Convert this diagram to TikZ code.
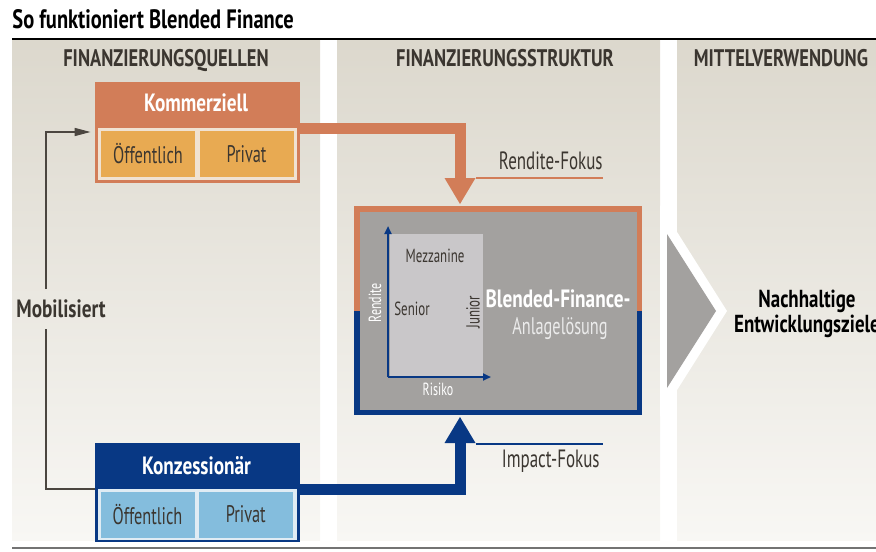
\documentclass[tikz,border=0pt]{standalone}
\usepackage{fontspec}
\setmainfont{PT Sans}
\newfontfamily\condbold[FakeStretch=0.77]{PT Sans}
\newfontfamily\condlight[FakeStretch=0.68]{PT Sans}
\usetikzlibrary{arrows.meta}

\definecolor{textdark}{RGB}{59,54,48}
\definecolor{komorange}{RGB}{210,125,88}
\definecolor{komyellow}{RGB}{232,170,82}
\definecolor{kompale}{RGB}{240,226,210}
\definecolor{konznavy}{RGB}{8,56,132}
\definecolor{konzlight}{RGB}{132,189,221}
\definecolor{konzpale}{RGB}{224,236,244}
\definecolor{blendgray}{RGB}{163,161,159}
\definecolor{tranchegray}{RGB}{201,199,201}
\definecolor{coltop}{RGB}{220,216,205}
\definecolor{colbottom}{RGB}{248,247,244}
\definecolor{mobgray}{RGB}{75,70,64}

\tikzset{
	colbg/.style={top color=coltop,bottom color=colbottom},
	headtext/.style={anchor=base,text=textdark,font=\condbold\bfseries\fontsize{12}{14}\selectfont},
	boxtitle/.style={anchor=base,text=white,font=\condbold\bfseries\fontsize{12.5}{14}\selectfont},
	subbox/.style={minimum width=47pt,minimum height=23pt,inner sep=0pt,text=textdark,font=\condlight\fontsize{12}{14}\selectfont},
	fokustext/.style={anchor=base east,inner sep=0pt,text=textdark,font=\condlight\fontsize{12.5}{14}\selectfont},
	fokusline/.style={draw=#1,line width=1pt},
	flowarrow/.style={draw=#1,line width=5.5pt,-{Triangle[width=15.5pt,length=13pt,line width=0pt]}},
	mobline/.style={draw=mobgray,line width=0.75pt},
	axisline/.style={draw=konznavy,line width=1pt,-{Triangle[width=3.5pt,length=4pt]}},
	tranchetext/.style={text=textdark,inner sep=0pt,font=\condlight\fontsize{9.5}{11}\selectfont},
	axistext/.style={text=white,inner sep=0pt,font=\condlight\fontsize{8.8}{10}\selectfont}
}

\begin{document}
\begin{tikzpicture}[x=0.5pt,y=-0.5pt]%[show background grid]

	\useasboundingbox (0,0) rectangle (876,551);
	\clip (0,0) rectangle (876,551);

	% columns and rules
	\shade[colbg] (12,41) rectangle (320,540);
	\shade[colbg] (337,41) rectangle (660,540);
	\shade[colbg] (677,41) rectangle (876,540);
	\draw[line width=1pt] (12,39) -- (876,39);
	\draw[line width=1pt,black!55] (12,548) -- (876,548);

	\node[anchor=base west,inner sep=0pt,font=\condbold\bfseries\fontsize{13.3}{15}\selectfont] (title) at (12,29) {So funktioniert Blended Finance};

	\node[headtext] (quellen) at (166,67) {FINANZIERUNGSQUELLEN};
	\node[headtext] (struktur) at (505,67) {FINANZIERUNGSSTRUKTUR};
	\node[headtext] (verwendung) at (781,67) {MITTELVERWENDUNG};

	% sources
	\node[fill=komorange,minimum width=102.5pt,minimum height=50.5pt,inner sep=0pt] (kom) at (197.5,132.5) {};
	\fill[kompale] (98,128) rectangle (297,180);
	\node[boxtitle] (komtitle) at (196,112) {Kommerziell};
	\node[subbox,fill=komyellow] (komoeff) at (148,154) {Öffentlich};
	\node[subbox,fill=komyellow] (komprivat) at (246.5,154) {Privat};

	\node[fill=konznavy,minimum width=102.5pt,minimum height=49.5pt,inner sep=0pt] (konz) at (197.5,492.5) {};
	\fill[konzpale] (98,489) rectangle (297,540);
	\node[boxtitle] (konztitle) at (196.5,474) {Konzessionär};
	\node[subbox,fill=konzlight] (konzoeff) at (147.5,514.5) {Öffentlich};
	\node[subbox,fill=konzlight] (konzprivat) at (245.75,514.5) {Privat};

	\node[inner sep=0pt,minimum height=19.5pt,text=textdark,font=\condbold\bfseries\fontsize{12.5}{14}\selectfont] (mobil) at (61,309) {Mobilisiert};
	\draw[mobline] (konz.west |- 0,489) -| (46,0 |- mobil.south);
	\draw[mobline,-{Triangle[width=4pt,length=8pt]}] (46,0 |- mobil.north) |- ([xshift=-2pt]kom.west |- 0,132);

	% structure
	\node[minimum width=144pt,minimum height=104.5pt,inner sep=0pt] (blend) at (498,310.5) {};
	\fill[komorange] (blend.north west) rectangle (blend.east);
	\fill[konznavy] (blend.west) rectangle (blend.south east);
	\fill[blendgray] ([shift={(3pt,-3pt)}]blend.north west) rectangle ([shift={(-2.5pt,2.5pt)}]blend.south east);

	\node[fill=tranchegray,minimum width=46.5pt,minimum height=71.5pt,inner sep=0pt] (tranche) at (436.5,305.5) {};
	\coordinate (origin) at (388,377);
	\draw[axisline] (origin) -- (388,226);
	\draw[axisline] (origin) -- (491,377);

	\node[tranchetext] (mezz) at (435,256) {Mezzanine};
	\node[tranchetext] (senior) at (412,309) {Senior};
	\node[tranchetext,rotate=90] (junior) at (473,312) {Junior};
	\node[axistext,rotate=90] (rendite) at (375,303) {Rendite};
	\node[axistext] (risiko) at (438,389) {Risiko};

	\node[anchor=base,inner sep=0pt,text=white,font=\condbold\bfseries\fontsize{12.5}{14}\selectfont] (blendtitle) at (558,307) {Blended-Finance-};
	\node[anchor=base,inner sep=0pt,text=black!8,font=\condlight\fontsize{12}{14}\selectfont] (blendsub) at (560,334) {Anlagelösung};

	\coordinate (rendin) at (460,204);
	\coordinate (impin) at (460,417);
	\draw[flowarrow=komorange] (kom.east |- 0,128) -| (rendin);
	\draw[flowarrow=konznavy] (konz.east |- 0,489) -| (impin);

	\node[fokustext] (rendfokus) at (603,169) {Rendite-Fokus};
	\draw[fokusline=komorange] (476,178) -- (rendfokus.east |- 0,178);
	\node[fokustext] (impfokus) at (600,467) {Impact-Fokus};
	\draw[fokusline=konznavy] (476,443.5) -- (603,443.5);

	% use of funds
	\fill[white] (660,205) -- (727,311) -- (660,417) -- cycle;
	\fill[blendgray] (667,234) -- (716,311) -- (667,388) -- cycle;
	\node[align=center,inner sep=0pt,text=black,font=\condbold\bfseries\fontsize{12.3}{11}\selectfont] (ziele) at (807,314) {Nachhaltige\\Entwicklungsziele};

\end{tikzpicture}
\end{document}
